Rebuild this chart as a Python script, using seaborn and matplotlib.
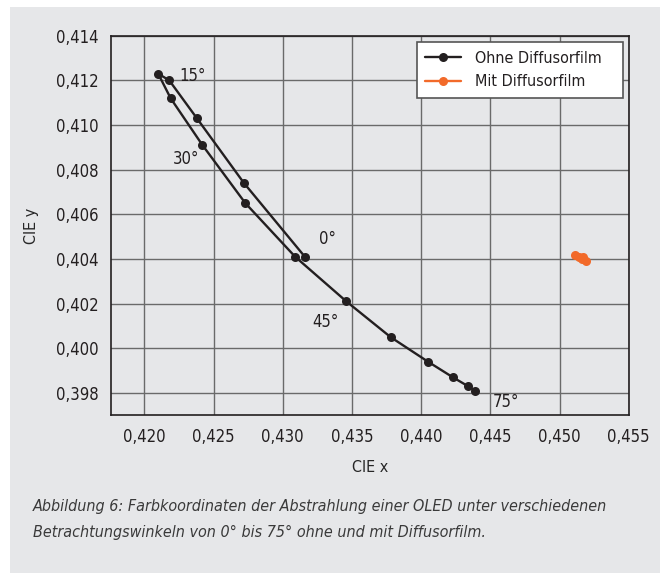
import matplotlib
matplotlib.use("Agg")
import matplotlib.pyplot as plt
import seaborn as sns
import pandas as pd
from matplotlib.patches import Rectangle
from matplotlib.lines import Line2D
from matplotlib.ticker import FuncFormatter, FixedLocator

# ---------------- data ----------------
series_names = ["Ohne Diffusorfilm", "Mit Diffusorfilm"]
series_colors = ["#231f20", "#f26a2a"]

ohne_x = [0.4316, 0.4272, 0.4238, 0.4218, 0.4210, 0.4219, 0.4242, 0.4273,
          0.4309, 0.4346, 0.4378, 0.4405, 0.4423, 0.4434, 0.4439]
ohne_y = [0.4041, 0.4074, 0.4103, 0.4120, 0.4123, 0.4112, 0.4091, 0.4065,
          0.4041, 0.4021, 0.4005, 0.3994, 0.3987, 0.3983, 0.3981]

mit_x = [0.4511, 0.4514, 0.4516, 0.4519, 0.4517]
mit_y = [0.4042, 0.4041, 0.4040, 0.4039, 0.4041]

angle_labels = ["0°", "15°", "30°", "45°", "75°"]
angle_label_x = [0.4332, 0.4235, 0.4230, 0.4331, 0.4461]
angle_label_y = [0.4049, 0.4122, 0.4085, 0.4012, 0.3976]

x_ticks = [0.420, 0.425, 0.430, 0.435, 0.440, 0.445, 0.450, 0.455]
y_ticks = [0.398, 0.400, 0.402, 0.404, 0.406, 0.408, 0.410, 0.412, 0.414]

x_label = "CIE x"
y_label = "CIE y"
caption = ("Abbildung 6: Farbkoordinaten der Abstrahlung einer OLED unter verschiedenen\n"
           "Betrachtungswinkeln von 0° bis 75° ohne und mit Diffusorfilm.")

# ---------------- style ----------------
sns.set_theme(style="whitegrid")
plt.rcParams["font.family"] = ["DejaVu Sans"]
plt.rcParams["font.stretch"] = "condensed"
plt.rcParams["text.color"] = "#231f20"

bg = "#e6e7e9"

fig = plt.figure(figsize=(6.6, 5.73), dpi=100)
fig.patch.set_facecolor("white")
fig.patches.append(Rectangle((10.5 / 660, 0), 1, 1 - 7 / 573,
                             transform=fig.transFigure, facecolor=bg,
                             edgecolor="none", zorder=-10))

ax = fig.add_axes([110.7 / 660, 1 - 415.3 / 573, 518.0 / 660, 379.6 / 573])
ax.set_facecolor(bg)

df = pd.concat([
    pd.DataFrame({"x": ohne_x, "y": ohne_y, "series": series_names[0]}),
    pd.DataFrame({"x": mit_x, "y": mit_y, "series": series_names[1]}),
], ignore_index=True)

palette = dict(zip(series_names, series_colors))
sns.lineplot(data=df, x="x", y="y", hue="series", palette=palette,
             sort=False, estimator=None, marker="o", markersize=6.5,
             markeredgewidth=0, linewidth=1.7, ax=ax, legend=False, zorder=3)

ax.set_xlim(0.41757, 0.455)
ax.set_ylim(0.397, 0.414)
ax.xaxis.set_major_locator(FixedLocator(x_ticks))
ax.yaxis.set_major_locator(FixedLocator(y_ticks))
fmt = FuncFormatter(lambda v, p: f"{v:.3f}".replace(".", ","))
ax.xaxis.set_major_formatter(fmt)
ax.yaxis.set_major_formatter(fmt)

ax.grid(True, color="#6a6a6a", linewidth=1.0)
ax.set_axisbelow(True)
for s in ax.spines.values():
    s.set_color("#231f20")
    s.set_linewidth(1.2)

ax.tick_params(axis="both", length=0, labelsize=12, colors="#231f20")
ax.tick_params(axis="x", pad=9)
ax.tick_params(axis="y", pad=9)

ax.set_xlabel(x_label, fontsize=11.5, labelpad=10)
ax.set_ylabel(y_label, fontsize=11.5, labelpad=12)

for t, x, y in zip(angle_labels, angle_label_x, angle_label_y):
    ax.text(x, y, t, ha="center", va="center", fontsize=12, zorder=4)

handles = [Line2D([], [], color=c, marker="o", markersize=6.5,
                  markeredgewidth=0, linewidth=1.7) for c in series_colors]
leg = ax.legend(handles, series_names, loc="upper left", mode="expand",
                bbox_to_anchor=(0.5907, 0.5, 0.398, 0.484), borderaxespad=0,
                fontsize=11.5, frameon=True, fancybox=False, framealpha=1,
                handlelength=2.2, handletextpad=0.9, labelspacing=0.55,
                borderpad=0.55)
leg.get_frame().set_edgecolor("#555555")
leg.get_frame().set_linewidth(1.2)
leg.get_frame().set_facecolor("white")

fig.text(33 / 660, 1 - 499 / 573, caption, ha="left", va="top",
         fontsize=11.5, style="italic", color="#3a3a3a", linespacing=1.95)

fig.savefig("out.png", dpi=100)
